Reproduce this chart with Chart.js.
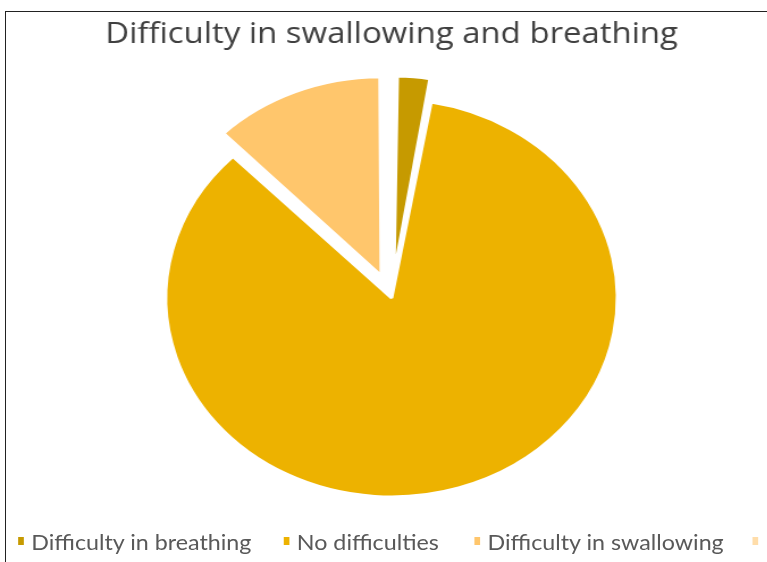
<!DOCTYPE html>
<html>
<head>
<meta charset="utf-8">
<script src="https://cdn.jsdelivr.net/npm/chart.js@4/dist/chart.umd.min.js"></script>
<style>
	html, body { margin: 0; padding: 0; background: #fff; overflow: hidden; }
	#wrap { position: relative; width: 767px; height: 562px; overflow: hidden; }
	#frame { position: absolute; left: 5px; top: 11px; width: 800px; height: 600px;
		border-left: 1.5px solid #222; border-top: 1.5px solid #222; }
	/* the original picture is stretched sideways, so stretch the drawing too */
	#stretch { position: absolute; left: 0; top: 0; width: 676px; height: 562px;
		transform: scaleX(1.135); transform-origin: 0 0; }
	#myChart { position: absolute; left: 0; top: 0; }
	#legend { position: absolute; left: 0; top: 530px; white-space: nowrap;
		font-family: Lato, sans-serif; font-size: 20.5px; color: #595959; }
	#legend span.item { position: absolute; top: 0; }
	#legend span.box { position: absolute; top: 7px; width: 5.3px; height: 8px; }
</style>
</head>
<body>
<div id="wrap">
	<div id="frame"></div>
	<div id="stretch">
		<canvas id="myChart" width="676" height="562"></canvas>
		<div id="legend"></div>
	</div>
</div>
<script>
// chart data
var title = 'Difficulty in swallowing and breathing';
var labels = ['Difficulty in breathing', 'No difficulties', 'Difficulty in swallowing', 'Difficulty in both'];
var values = [2.8, 84.8, 12.4, 0];
var colors = ['#C69A00', '#EDB200', '#FFC66C', '#FFDDAA'];
var explode = [92, 0, 96, 0]; // chart.js draws offset/4 px

// legend swatch x (unstretched px)
var legendX = [16, 250, 418, 663];

// chart.js also grows an exploded slice's radius, undo that so it keeps the pie size
var keepRadius = {
	id: 'keepRadius',
	afterDatasetsUpdate: function(chart){
		chart.getDatasetMeta(0).data.forEach(function(a){
			var off = (a.options.offset || 0) / 4;
			var fix = 1 - Math.sin(Math.min(Math.PI, a.circumference || 0));
			a.outerRadius -= off * fix;
		});
	}
};

function renderChart(){
	var ctx = document.getElementById('myChart').getContext('2d');
	var chart = new Chart(ctx, {
		type: 'pie',
		data: {
			labels: labels,
			datasets: [{
				data: values,
				backgroundColor: colors,
				borderColor: '#fff',
				borderWidth: 3,
				offset: explode,
				radius: 199
			}]
		},
		plugins: [keepRadius],
		options: {
			responsive: false,
			animation: false,
			layout: {
				padding: { left: 14, right: 0, top: 0, bottom: 36 }
			},
			plugins: {
				legend: { display: false },
				tooltip: { enabled: false },
				title: {
					display: true,
					text: title,
					color: '#404040',
					font: { family: 'Open Sans', size: 29, weight: 'normal' },
					padding: { top: 17.5, bottom: 17.7 }
				}
			}
		}
	});

	// legend as html row, last one runs off the edge like the original
	var lg = document.getElementById('legend');
	labels.forEach(function(l, i){
		var box = document.createElement('span');
		box.className = 'box';
		box.style.left = legendX[i] + 'px';
		box.style.background = colors[i];
		lg.appendChild(box);
		var t = document.createElement('span');
		t.className = 'item';
		t.style.left = (legendX[i] + 11.5) + 'px';
		t.textContent = l;
		lg.appendChild(t);
	});
}
renderChart();
</script>
</body>
</html>
